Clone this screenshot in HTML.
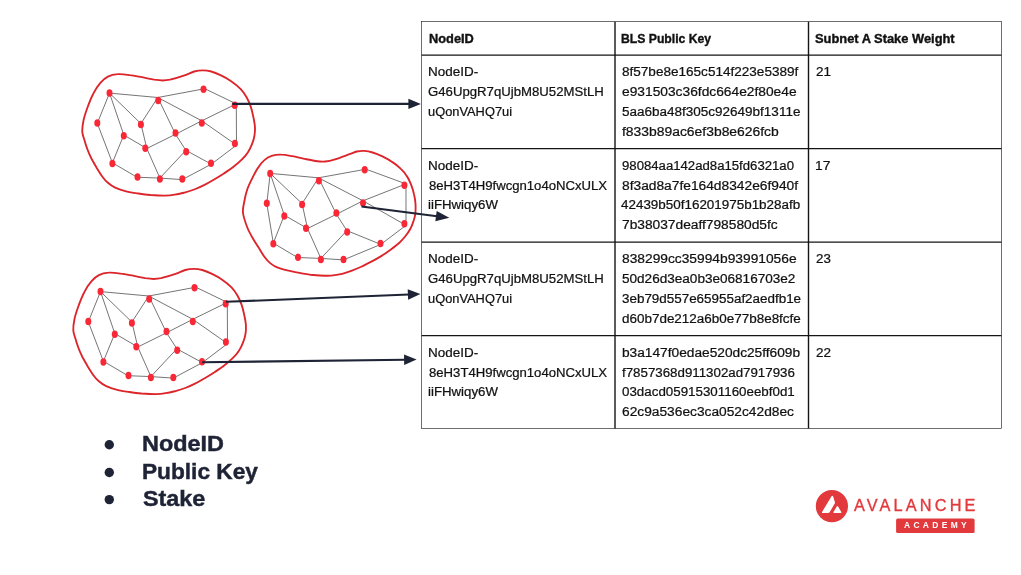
<!DOCTYPE html><html><head><meta charset="utf-8"><title>Validator set</title><style>
html,body{margin:0;padding:0;background:#fff}
#s{position:relative;will-change:transform;width:1021px;height:575px;overflow:hidden;background:#fff;font-family:"Liberation Sans",sans-serif}
#s svg{position:absolute;left:0;top:0}
.t{position:absolute;white-space:nowrap;line-height:1;margin:0;transform-origin:0 0}
</style></head><body><div id="s">
<svg width="1021" height="575" viewBox="0 0 1021 575">
<rect x="421.6" y="21.65" width="579.9" height="406.75" stroke="#151515" stroke-width="0.62" fill="none"/>
<g stroke="#151515" stroke-width="1.25" fill="none">
<line x1="615.0" y1="21.65" x2="615.0" y2="428.4" stroke-width="1.4"/>
<line x1="808.5" y1="21.65" x2="808.5" y2="428.4" stroke-width="1.4"/>
<line x1="421.6" y1="55.0" x2="1001.5" y2="55.0"/>
<line x1="421.6" y1="148.5" x2="1001.5" y2="148.5"/>
<line x1="421.6" y1="242.0" x2="1001.5" y2="242.0"/>
<line x1="421.6" y1="335.5" x2="1001.5" y2="335.5"/>
</g>
<g transform="translate(0,0)"><path d="M82.3,132.0C82.1,128.8 82.7,124.4 83.5,120.5C84.3,116.5 85.6,112.8 87.2,108.3C88.8,103.8 91.0,97.9 93.3,93.7C95.5,89.4 98.1,85.5 100.6,82.7C103.0,79.9 105.0,78.0 107.9,76.6C110.7,75.2 114.0,74.4 117.6,74.2C121.3,73.9 125.8,74.6 129.8,75.2C133.9,75.7 137.9,76.5 142.0,77.2C146.1,78.0 150.7,79.1 154.2,79.7C157.6,80.2 160.1,80.5 162.7,80.5C165.3,80.5 166.4,80.5 170.0,79.7C173.6,78.8 180.5,76.8 184.5,75.4C188.5,74.0 191.2,72.4 194.2,71.5C197.3,70.6 199.9,70.3 202.8,70.3C205.6,70.3 208.2,70.6 211.3,71.5C214.3,72.4 217.8,73.8 221.0,75.4C224.3,77.0 227.5,78.6 230.8,80.9C234.0,83.1 237.9,86.1 240.5,88.8C243.2,91.5 244.9,94.3 246.6,97.3C248.3,100.4 249.8,103.8 250.9,107.1C252.0,110.3 252.6,113.6 253.3,116.8C254.0,120.1 254.7,123.5 254.9,126.6C255.1,129.6 255.0,132.4 254.5,135.3C254.1,138.2 253.2,141.0 252.1,143.8C251.0,146.7 249.6,149.7 247.8,152.4C246.1,155.0 244.2,157.2 241.7,159.7C239.3,162.1 236.3,164.6 233.2,167.0C230.2,169.3 226.7,171.5 223.5,173.7C220.2,175.8 217.0,177.8 213.7,179.8C210.5,181.7 207.2,183.6 204.0,185.2C200.7,186.9 197.5,188.3 194.2,189.5C191.0,190.7 187.7,191.7 184.5,192.6C181.2,193.4 178.0,194.2 174.7,194.7C171.5,195.3 169.0,195.6 165.0,195.6C161.0,195.6 155.0,195.3 150.5,195.0C146.1,194.6 142.4,194.1 138.3,193.5C134.3,192.9 130.0,192.3 126.2,191.3C122.3,190.4 118.2,189.1 115.2,187.7C112.1,186.3 110.0,184.6 107.9,182.8C105.8,181.0 104.2,179.2 102.4,176.7C100.6,174.3 98.8,171.2 96.9,168.2C95.1,165.1 93.1,161.7 91.4,158.5C89.8,155.2 88.3,151.8 87.2,148.7C86.0,145.7 85.3,143.0 84.5,140.2C83.7,137.4 82.5,135.3 82.3,132.0Z" fill="none" stroke="#dc252b" stroke-width="1.85"/><g stroke="#6e6e6e" stroke-width="0.95"><line x1="109.5" y1="93.1" x2="157.8" y2="97.5"/><line x1="157.8" y1="97.5" x2="204.8" y2="88.7"/><line x1="204.8" y1="88.7" x2="236.3" y2="103.9"/><line x1="109.5" y1="93.1" x2="97.3" y2="123.3"/><line x1="97.3" y1="123.3" x2="112.4" y2="162.8"/><line x1="109.5" y1="93.1" x2="123.8" y2="135.0"/><line x1="109.5" y1="93.1" x2="140.9" y2="123.6"/><line x1="140.9" y1="123.6" x2="157.8" y2="97.5"/><line x1="157.8" y1="97.5" x2="175.5" y2="134.3"/><line x1="157.8" y1="97.5" x2="201.8" y2="120.8"/><line x1="201.8" y1="120.8" x2="236.3" y2="103.9"/><line x1="236.3" y1="103.9" x2="236.5" y2="145.1"/><line x1="201.8" y1="120.8" x2="236.5" y2="145.1"/><line x1="201.8" y1="120.8" x2="175.5" y2="134.3"/><line x1="175.5" y1="134.3" x2="146.8" y2="148.5"/><line x1="123.8" y1="135.0" x2="146.8" y2="148.5"/><line x1="123.8" y1="135.0" x2="112.4" y2="162.8"/><line x1="140.9" y1="123.6" x2="146.8" y2="148.5"/><line x1="146.8" y1="148.5" x2="159.9" y2="178.1"/><line x1="175.5" y1="134.3" x2="185.9" y2="150.3"/><line x1="185.9" y1="150.3" x2="159.9" y2="178.1"/><line x1="185.9" y1="150.3" x2="211.3" y2="164.2"/><line x1="211.3" y1="164.2" x2="236.5" y2="145.1"/><line x1="112.4" y1="162.8" x2="137.0" y2="177.2"/><line x1="137.0" y1="177.2" x2="159.9" y2="178.1"/><line x1="159.9" y1="178.1" x2="182.3" y2="179.6"/><line x1="182.3" y1="179.6" x2="211.3" y2="164.2"/></g><g fill="#fa2837"><ellipse cx="109.5" cy="93.1" rx="3.0" ry="3.75"/><ellipse cx="158.2" cy="100.4" rx="3.0" ry="3.75"/><ellipse cx="203.5" cy="89.2" rx="3.0" ry="3.75"/><ellipse cx="234.7" cy="105.3" rx="3.0" ry="3.75"/><ellipse cx="97.3" cy="122.9" rx="3.0" ry="3.75"/><ellipse cx="140.9" cy="124.6" rx="3.0" ry="3.75"/><ellipse cx="201.8" cy="123.1" rx="3.0" ry="3.75"/><ellipse cx="123.8" cy="135.8" rx="3.0" ry="3.75"/><ellipse cx="175.5" cy="133.1" rx="3.0" ry="3.75"/><ellipse cx="145.3" cy="148.2" rx="3.0" ry="3.75"/><ellipse cx="234.9" cy="143.6" rx="3.0" ry="3.75"/><ellipse cx="186.2" cy="151.8" rx="3.0" ry="3.75"/><ellipse cx="112.4" cy="163.5" rx="3.0" ry="3.75"/><ellipse cx="211" cy="163.3" rx="3.0" ry="3.75"/><ellipse cx="137.5" cy="176.9" rx="3.0" ry="3.75"/><ellipse cx="159.9" cy="179.1" rx="3.0" ry="3.75"/><ellipse cx="182.3" cy="179.1" rx="3.0" ry="3.75"/></g></g>
<g transform="translate(0,0)"><path d="M243.0,213.0C242.5,208.7 243.6,205.4 244.3,201.5C245.0,197.5 246.0,193.1 247.3,189.3C248.6,185.4 250.4,182.0 252.2,178.3C254.0,174.7 256.2,170.4 258.3,167.4C260.3,164.3 262.1,162.0 264.4,160.1C266.6,158.1 268.8,156.7 271.7,155.8C274.5,154.9 278.0,154.5 281.4,154.6C284.9,154.6 288.7,155.5 292.4,156.2C296.0,156.8 299.5,157.8 303.3,158.6C307.2,159.4 311.9,160.5 315.5,161.0C319.2,161.5 322.0,161.8 325.3,161.5C328.5,161.3 331.0,160.7 335.0,159.4C339.0,158.2 345.9,155.5 349.5,154.2C353.1,152.9 354.4,152.1 356.8,151.5C359.2,151.0 361.5,150.8 364.1,150.9C366.7,151.1 369.6,151.6 372.6,152.5C375.7,153.4 379.1,154.8 382.4,156.4C385.6,158.0 389.1,159.8 392.1,161.9C395.2,163.9 398.2,166.2 400.6,168.6C403.1,170.9 405.0,173.2 406.7,175.9C408.5,178.5 409.8,181.4 411.0,184.4C412.2,187.5 413.3,190.9 414.0,194.2C414.8,197.4 415.3,200.6 415.5,203.9C415.7,207.2 415.6,211.2 415.3,214.1C414.9,217.0 414.2,219.0 413.4,221.4C412.6,223.8 411.7,226.3 410.4,228.7C409.1,231.1 407.3,233.7 405.5,236.0C403.7,238.3 401.9,240.5 399.4,242.7C397.0,244.9 393.9,247.2 390.9,249.4C387.9,251.6 384.4,254.1 381.2,256.1C377.9,258.1 374.7,259.9 371.4,261.6C368.2,263.3 364.9,264.9 361.7,266.5C358.4,268.0 355.2,269.5 351.9,270.7C348.7,271.9 345.0,273.0 342.2,273.8C339.3,274.5 337.7,274.9 334.9,275.2C332.1,275.6 328.9,275.8 325.3,275.7C321.6,275.7 317.1,275.4 313.1,275.0C309.0,274.6 305.0,273.9 300.9,273.2C296.8,272.5 292.6,271.6 288.7,270.7C284.9,269.8 280.8,268.9 277.8,267.7C274.7,266.5 272.7,265.2 270.5,263.4C268.2,261.6 266.4,259.5 264.4,256.7C262.3,254.0 260.3,250.2 258.3,247.0C256.2,243.7 254.0,240.5 252.2,237.2C250.4,234.0 248.8,231.5 247.3,227.5C245.8,223.5 243.6,217.4 243.0,213.0Z" fill="none" stroke="#dc252b" stroke-width="1.85"/><g stroke="#6e6e6e" stroke-width="0.95"><line x1="270.2" y1="173.4" x2="318.5" y2="177.8"/><line x1="318.5" y1="177.8" x2="366.0" y2="169.2"/><line x1="366.0" y1="169.2" x2="406.0" y2="183.9"/><line x1="270.2" y1="173.4" x2="266.8" y2="203.7"/><line x1="266.8" y1="203.7" x2="273.3" y2="243.1"/><line x1="270.2" y1="173.4" x2="284.3" y2="215.2"/><line x1="270.2" y1="173.4" x2="302.1" y2="203.6"/><line x1="302.1" y1="203.6" x2="318.5" y2="177.8"/><line x1="318.5" y1="177.8" x2="336.4" y2="214.3"/><line x1="318.5" y1="177.8" x2="363.0" y2="200.8"/><line x1="363.0" y1="200.8" x2="406.0" y2="183.9"/><line x1="406.0" y1="183.9" x2="406.0" y2="225.3"/><line x1="363.0" y1="200.8" x2="406.0" y2="225.3"/><line x1="363.0" y1="200.8" x2="336.4" y2="214.3"/><line x1="336.4" y1="214.3" x2="307.5" y2="228.5"/><line x1="284.3" y1="215.2" x2="307.5" y2="228.5"/><line x1="284.3" y1="215.2" x2="273.3" y2="243.1"/><line x1="302.1" y1="203.6" x2="307.5" y2="228.5"/><line x1="307.5" y1="228.5" x2="320.9" y2="258.4"/><line x1="336.4" y1="214.3" x2="346.9" y2="230.6"/><line x1="346.9" y1="230.6" x2="320.9" y2="258.4"/><line x1="346.9" y1="230.6" x2="380.8" y2="244.4"/><line x1="380.8" y1="244.4" x2="406.0" y2="225.3"/><line x1="273.3" y1="243.1" x2="297.5" y2="257.5"/><line x1="297.5" y1="257.5" x2="320.9" y2="258.4"/><line x1="320.9" y1="258.4" x2="343.5" y2="259.9"/><line x1="343.5" y1="259.9" x2="380.8" y2="244.4"/></g><g fill="#fa2837"><ellipse cx="270.2" cy="173.4" rx="3.0" ry="3.75"/><ellipse cx="318.9" cy="180.7" rx="3.0" ry="3.75"/><ellipse cx="364.7" cy="169.7" rx="3.0" ry="3.75"/><ellipse cx="404.4" cy="185.3" rx="3.0" ry="3.75"/><ellipse cx="266.8" cy="203.3" rx="3.0" ry="3.75"/><ellipse cx="302.1" cy="204.6" rx="3.0" ry="3.75"/><ellipse cx="363.0" cy="203.1" rx="3.0" ry="3.75"/><ellipse cx="284.3" cy="216.0" rx="3.0" ry="3.75"/><ellipse cx="336.4" cy="213.1" rx="3.0" ry="3.75"/><ellipse cx="306.0" cy="228.2" rx="3.0" ry="3.75"/><ellipse cx="404.4" cy="223.8" rx="3.0" ry="3.75"/><ellipse cx="347.2" cy="232.1" rx="3.0" ry="3.75"/><ellipse cx="273.3" cy="243.8" rx="3.0" ry="3.75"/><ellipse cx="380.5" cy="243.5" rx="3.0" ry="3.75"/><ellipse cx="298.0" cy="257.2" rx="3.0" ry="3.75"/><ellipse cx="320.9" cy="259.4" rx="3.0" ry="3.75"/><ellipse cx="343.5" cy="259.4" rx="3.0" ry="3.75"/></g></g>
<g transform="translate(-9,198.5)"><path d="M82.3,132.0C82.1,128.8 82.7,124.4 83.5,120.5C84.3,116.5 85.6,112.8 87.2,108.3C88.8,103.8 91.0,97.9 93.3,93.7C95.5,89.4 98.1,85.5 100.6,82.7C103.0,79.9 105.0,78.0 107.9,76.6C110.7,75.2 114.0,74.4 117.6,74.2C121.3,73.9 125.8,74.6 129.8,75.2C133.9,75.7 137.9,76.5 142.0,77.2C146.1,78.0 150.7,79.1 154.2,79.7C157.6,80.2 160.1,80.5 162.7,80.5C165.3,80.5 166.4,80.5 170.0,79.7C173.6,78.8 180.5,76.8 184.5,75.4C188.5,74.0 191.2,72.4 194.2,71.5C197.3,70.6 199.9,70.3 202.8,70.3C205.6,70.3 208.2,70.6 211.3,71.5C214.3,72.4 217.8,73.8 221.0,75.4C224.3,77.0 227.5,78.6 230.8,80.9C234.0,83.1 237.9,86.1 240.5,88.8C243.2,91.5 244.9,94.3 246.6,97.3C248.3,100.4 249.8,103.8 250.9,107.1C252.0,110.3 252.6,113.6 253.3,116.8C254.0,120.1 254.7,123.5 254.9,126.6C255.1,129.6 255.0,132.4 254.5,135.3C254.1,138.2 253.2,141.0 252.1,143.8C251.0,146.7 249.6,149.7 247.8,152.4C246.1,155.0 244.2,157.2 241.7,159.7C239.3,162.1 236.3,164.6 233.2,167.0C230.2,169.3 226.7,171.5 223.5,173.7C220.2,175.8 217.0,177.8 213.7,179.8C210.5,181.7 207.2,183.6 204.0,185.2C200.7,186.9 197.5,188.3 194.2,189.5C191.0,190.7 187.7,191.7 184.5,192.6C181.2,193.4 178.0,194.2 174.7,194.7C171.5,195.3 169.0,195.6 165.0,195.6C161.0,195.6 155.0,195.3 150.5,195.0C146.1,194.6 142.4,194.1 138.3,193.5C134.3,192.9 130.0,192.3 126.2,191.3C122.3,190.4 118.2,189.1 115.2,187.7C112.1,186.3 110.0,184.6 107.9,182.8C105.8,181.0 104.2,179.2 102.4,176.7C100.6,174.3 98.8,171.2 96.9,168.2C95.1,165.1 93.1,161.7 91.4,158.5C89.8,155.2 88.3,151.8 87.2,148.7C86.0,145.7 85.3,143.0 84.5,140.2C83.7,137.4 82.5,135.3 82.3,132.0Z" fill="none" stroke="#dc252b" stroke-width="1.85"/><g stroke="#6e6e6e" stroke-width="0.95"><line x1="109.5" y1="93.1" x2="157.8" y2="97.5"/><line x1="157.8" y1="97.5" x2="204.8" y2="88.7"/><line x1="204.8" y1="88.7" x2="236.3" y2="103.9"/><line x1="109.5" y1="93.1" x2="97.3" y2="123.3"/><line x1="97.3" y1="123.3" x2="112.4" y2="162.8"/><line x1="109.5" y1="93.1" x2="123.8" y2="135.0"/><line x1="109.5" y1="93.1" x2="140.9" y2="123.6"/><line x1="140.9" y1="123.6" x2="157.8" y2="97.5"/><line x1="157.8" y1="97.5" x2="175.5" y2="134.3"/><line x1="157.8" y1="97.5" x2="201.8" y2="120.8"/><line x1="201.8" y1="120.8" x2="236.3" y2="103.9"/><line x1="236.3" y1="103.9" x2="236.5" y2="145.1"/><line x1="201.8" y1="120.8" x2="236.5" y2="145.1"/><line x1="201.8" y1="120.8" x2="175.5" y2="134.3"/><line x1="175.5" y1="134.3" x2="146.8" y2="148.5"/><line x1="123.8" y1="135.0" x2="146.8" y2="148.5"/><line x1="123.8" y1="135.0" x2="112.4" y2="162.8"/><line x1="140.9" y1="123.6" x2="146.8" y2="148.5"/><line x1="146.8" y1="148.5" x2="159.9" y2="178.1"/><line x1="175.5" y1="134.3" x2="185.9" y2="150.3"/><line x1="185.9" y1="150.3" x2="159.9" y2="178.1"/><line x1="185.9" y1="150.3" x2="211.3" y2="164.2"/><line x1="211.3" y1="164.2" x2="236.5" y2="145.1"/><line x1="112.4" y1="162.8" x2="137.0" y2="177.2"/><line x1="137.0" y1="177.2" x2="159.9" y2="178.1"/><line x1="159.9" y1="178.1" x2="182.3" y2="179.6"/><line x1="182.3" y1="179.6" x2="211.3" y2="164.2"/></g><g fill="#fa2837"><ellipse cx="109.5" cy="93.1" rx="3.0" ry="3.75"/><ellipse cx="158.2" cy="100.4" rx="3.0" ry="3.75"/><ellipse cx="203.5" cy="89.2" rx="3.0" ry="3.75"/><ellipse cx="234.7" cy="105.3" rx="3.0" ry="3.75"/><ellipse cx="97.3" cy="122.9" rx="3.0" ry="3.75"/><ellipse cx="140.9" cy="124.6" rx="3.0" ry="3.75"/><ellipse cx="201.8" cy="123.1" rx="3.0" ry="3.75"/><ellipse cx="123.8" cy="135.8" rx="3.0" ry="3.75"/><ellipse cx="175.5" cy="133.1" rx="3.0" ry="3.75"/><ellipse cx="145.3" cy="148.2" rx="3.0" ry="3.75"/><ellipse cx="234.9" cy="143.6" rx="3.0" ry="3.75"/><ellipse cx="186.2" cy="151.8" rx="3.0" ry="3.75"/><ellipse cx="112.4" cy="163.5" rx="3.0" ry="3.75"/><ellipse cx="211" cy="163.3" rx="3.0" ry="3.75"/><ellipse cx="137.5" cy="176.9" rx="3.0" ry="3.75"/><ellipse cx="159.9" cy="179.1" rx="3.0" ry="3.75"/><ellipse cx="182.3" cy="179.1" rx="3.0" ry="3.75"/></g></g>
<line x1="232.3" y1="103.9" x2="409.40" y2="103.90" stroke="#1e2335" stroke-width="2.1"/><polygon points="420.90,103.90 408.40,109.10 408.40,98.70" fill="#1e2335"/>
<line x1="361.5" y1="206.5" x2="437.00" y2="216.22" stroke="#1e2335" stroke-width="2.1"/><polygon points="449.30,217.80 435.35,221.25 436.67,210.93" fill="#1e2335"/>
<line x1="226" y1="301.8" x2="408.91" y2="294.46" stroke="#1e2335" stroke-width="2.1"/><polygon points="420.40,294.00 408.12,299.70 407.70,289.31" fill="#1e2335"/>
<line x1="202.2" y1="362.3" x2="405.10" y2="359.74" stroke="#1e2335" stroke-width="2.1"/><polygon points="416.60,359.60 404.17,364.96 404.04,354.56" fill="#1e2335"/>
<circle cx="109.3" cy="444.7" r="4.7" fill="#1e2335"/>
<circle cx="109.3" cy="472.5" r="4.7" fill="#1e2335"/>
<circle cx="109.3" cy="499.6" r="4.7" fill="#1e2335"/>
<circle cx="831.9" cy="506.1" r="16.1" fill="#e2393d"/>
<path d="M831.5,496.3 Q832.3,495.1 833.1,496.3 L834.7,501.4 Q835.3,502.6 834.6,503.8 L829.6,512.3 Q829.1,513 828.2,513 L822.9,513 Q821.4,513 822.2,511.7 Z M836.7,506.6 Q837.4,505.5 838.1,506.6 L841.3,512 Q841.8,513 840.7,513 L834.1,513 Q833,513 833.5,512 Z" fill="#fff"/>
<rect x="896.1" y="518.6" width="78.5" height="14.4" rx="1.6" fill="#e2393d"/>
</svg>
<div class="t" style="left:428.60px;top:33.14px;font-size:12px;font-weight:700;color:#111;-webkit-text-stroke:0.35px #111;transform:scaleX(1.0675)">NodeID</div>
<div class="t" style="left:621.44px;top:33.14px;font-size:12px;font-weight:700;color:#111;-webkit-text-stroke:0.35px #111;transform:scaleX(1.0162)">BLS Public Key</div>
<div class="t" style="left:815.10px;top:33.14px;font-size:12px;font-weight:700;color:#111;-webkit-text-stroke:0.35px #111;transform:scaleX(1.0721)">Subnet A Stake Weight</div>
<div class="t" style="left:427.98px;top:66.49px;font-size:12px;font-weight:400;color:#111;-webkit-text-stroke:0.22px #111;transform:scaleX(1.1223)">NodeID-</div>
<div class="t" style="left:428.41px;top:86.24px;font-size:12px;font-weight:400;color:#111;-webkit-text-stroke:0.22px #111;transform:scaleX(1.0978)">G46UpgR7qUjbM8U52MStLH</div>
<div class="t" style="left:428.30px;top:105.99px;font-size:12px;font-weight:400;color:#111;-webkit-text-stroke:0.22px #111;transform:scaleX(1.0706)">uQonVAHQ7ui</div>
<div class="t" style="left:622.24px;top:66.49px;font-size:12px;font-weight:400;color:#111;-webkit-text-stroke:0.22px #111;transform:scaleX(1.1290)">8f57be8e165c514f223e5389f</div>
<div class="t" style="left:622.23px;top:86.24px;font-size:12px;font-weight:400;color:#111;-webkit-text-stroke:0.22px #111;transform:scaleX(1.1474)">e931503c36fdc664e2f80e4e</div>
<div class="t" style="left:622.24px;top:105.99px;font-size:12px;font-weight:400;color:#111;-webkit-text-stroke:0.22px #111;transform:scaleX(1.1248)">5aa6ba48f305c92649bf1311e</div>
<div class="t" style="left:622.16px;top:125.74px;font-size:12px;font-weight:400;color:#111;-webkit-text-stroke:0.22px #111;transform:scaleX(1.1574)">f833b89ac6ef3b8e626fcb</div>
<div class="t" style="left:815.70px;top:66.49px;font-size:12px;font-weight:400;color:#111;-webkit-text-stroke:0.22px #111;transform:scaleX(1.1216)">21</div>
<div class="t" style="left:427.98px;top:159.99px;font-size:12px;font-weight:400;color:#111;-webkit-text-stroke:0.22px #111;transform:scaleX(1.1223)">NodeID-</div>
<div class="t" style="left:428.55px;top:179.74px;font-size:12px;font-weight:400;color:#111;-webkit-text-stroke:0.22px #111;transform:scaleX(1.0944)">8eH3T4H9fwcgn1o4oNCxULX</div>
<div class="t" style="left:428.27px;top:199.49px;font-size:12px;font-weight:400;color:#111;-webkit-text-stroke:0.22px #111;transform:scaleX(1.1040)">iiFHwiqy6W</div>
<div class="t" style="left:622.11px;top:159.99px;font-size:12px;font-weight:400;color:#111;-webkit-text-stroke:0.22px #111;transform:scaleX(1.0966)">98084aa142ad8a15fd6321a0</div>
<div class="t" style="left:622.23px;top:179.74px;font-size:12px;font-weight:400;color:#111;-webkit-text-stroke:0.22px #111;transform:scaleX(1.1471)">8f3ad8a7fe164d8342e6f940f</div>
<div class="t" style="left:621.32px;top:199.49px;font-size:12px;font-weight:400;color:#111;-webkit-text-stroke:0.22px #111;transform:scaleX(1.1187)">42439b50f16201975b1b28afb</div>
<div class="t" style="left:622.08px;top:219.24px;font-size:12px;font-weight:400;color:#111;-webkit-text-stroke:0.22px #111;transform:scaleX(1.1452)">7b38037deaff798580d5fc</div>
<div class="t" style="left:815.40px;top:159.99px;font-size:12px;font-weight:400;color:#111;-webkit-text-stroke:0.22px #111;transform:scaleX(1.1453)">17</div>
<div class="t" style="left:427.98px;top:253.49px;font-size:12px;font-weight:400;color:#111;-webkit-text-stroke:0.22px #111;transform:scaleX(1.1223)">NodeID-</div>
<div class="t" style="left:428.41px;top:273.24px;font-size:12px;font-weight:400;color:#111;-webkit-text-stroke:0.22px #111;transform:scaleX(1.0978)">G46UpgR7qUjbM8U52MStLH</div>
<div class="t" style="left:428.30px;top:292.99px;font-size:12px;font-weight:400;color:#111;-webkit-text-stroke:0.22px #111;transform:scaleX(1.0706)">uQonVAHQ7ui</div>
<div class="t" style="left:622.23px;top:253.49px;font-size:12px;font-weight:400;color:#111;-webkit-text-stroke:0.22px #111;transform:scaleX(1.1474)">838299cc35994b93991056e</div>
<div class="t" style="left:622.24px;top:273.24px;font-size:12px;font-weight:400;color:#111;-webkit-text-stroke:0.22px #111;transform:scaleX(1.1295)">50d26d3ea0b3e06816703e2</div>
<div class="t" style="left:622.24px;top:292.99px;font-size:12px;font-weight:400;color:#111;-webkit-text-stroke:0.22px #111;transform:scaleX(1.1180)">3eb79d557e65955af2aedfb1e</div>
<div class="t" style="left:622.24px;top:312.74px;font-size:12px;font-weight:400;color:#111;-webkit-text-stroke:0.22px #111;transform:scaleX(1.1211)">d60b7de212a6b0e77b8e8fcfe</div>
<div class="t" style="left:815.71px;top:253.49px;font-size:12px;font-weight:400;color:#111;-webkit-text-stroke:0.22px #111;transform:scaleX(1.1102)">23</div>
<div class="t" style="left:427.98px;top:346.99px;font-size:12px;font-weight:400;color:#111;-webkit-text-stroke:0.22px #111;transform:scaleX(1.1223)">NodeID-</div>
<div class="t" style="left:428.55px;top:366.74px;font-size:12px;font-weight:400;color:#111;-webkit-text-stroke:0.22px #111;transform:scaleX(1.0944)">8eH3T4H9fwcgn1o4oNCxULX</div>
<div class="t" style="left:428.27px;top:386.49px;font-size:12px;font-weight:400;color:#111;-webkit-text-stroke:0.22px #111;transform:scaleX(1.1040)">iiFHwiqy6W</div>
<div class="t" style="left:621.94px;top:346.99px;font-size:12px;font-weight:400;color:#111;-webkit-text-stroke:0.22px #111;transform:scaleX(1.1421)">b3a147f0edae520dc25ff609b</div>
<div class="t" style="left:622.16px;top:366.74px;font-size:12px;font-weight:400;color:#111;-webkit-text-stroke:0.22px #111;transform:scaleX(1.1085)">f7857368d911302ad7917936</div>
<div class="t" style="left:622.24px;top:386.49px;font-size:12px;font-weight:400;color:#111;-webkit-text-stroke:0.22px #111;transform:scaleX(1.1127)">03dacd05915301160eebf0d1</div>
<div class="t" style="left:622.08px;top:406.24px;font-size:12px;font-weight:400;color:#111;-webkit-text-stroke:0.22px #111;transform:scaleX(1.1453)">62c9a536ec3ca052c42d8ec</div>
<div class="t" style="left:815.70px;top:346.99px;font-size:12px;font-weight:400;color:#111;-webkit-text-stroke:0.22px #111;transform:scaleX(1.1216)">22</div>
<div class="t" style="left:141.63px;top:433.24px;font-size:22.4px;font-weight:700;color:#1e2335;-webkit-text-stroke:0.45px #1e2335;transform:scaleX(1.0465)">NodeID</div>
<div class="t" style="left:141.68px;top:460.74px;font-size:22.4px;font-weight:700;color:#1e2335;-webkit-text-stroke:0.45px #1e2335;transform:scaleX(1.0126)">Public Key</div>
<div class="t" style="left:142.55px;top:488.14px;font-size:22.4px;font-weight:700;color:#1e2335;-webkit-text-stroke:0.45px #1e2335;transform:scaleX(1.0433)">Stake</div>
<div class="t" style="left:854.10px;top:498.16px;font-size:16px;font-weight:400;color:#e2393d;letter-spacing:3.1px;-webkit-text-stroke:0.35px #e2393d;transform:scaleX(1.0175)">AVALANCHE</div>
<div class="t" style="left:904.44px;top:521.96px;font-size:8.2px;font-weight:700;color:#fff;letter-spacing:3.2px;transform:scaleX(1.0345)">ACADEMY</div>
</div></body></html>
